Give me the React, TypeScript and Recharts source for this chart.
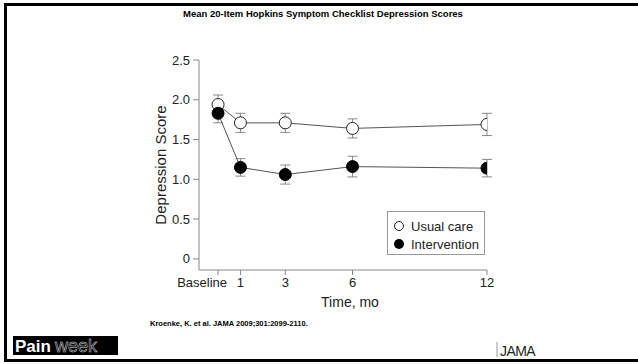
import React from 'react';
import { LineChart, Line, XAxis, YAxis, ErrorBar, Legend } from 'recharts';

// months since baseline (0 = baseline)
const months = [0, 1, 3, 6, 12];
const usualCare = [1.94, 1.71, 1.71, 1.64, 1.69];
const usualCareErr = [0.12, 0.12, 0.12, 0.12, 0.14];
const intervention = [1.83, 1.15, 1.06, 1.16, 1.14];
const interventionErr = [0.12, 0.11, 0.12, 0.13, 0.11];
const yTicks = [0, 0.5, 1, 1.5, 2, 2.5];

const FONT = '"Liberation Sans", Arial, Helvetica, sans-serif';

const data = months.map((m, i) => ({
  month: m,
  usual: usualCare[i],
  usualErr: usualCareErr[i],
  interv: intervention[i],
  intervErr: interventionErr[i],
}));

const MonthTick = (props: any) => {
  const { x, y, payload } = props;
  const isBase = payload.value === 0;
  return (
    <text x={isBase ? x + 9 : x} y={y} dy="0.71em" textAnchor={isBase ? 'end' : 'middle'}
      fontFamily={FONT} fontSize={13} fill="#222">
      {isBase ? 'Baseline' : payload.value}
    </text>
  );
};

const YLabel = (props: any) => {
  const { viewBox } = props;
  const x = viewBox.x + 21;
  const y = viewBox.y + viewBox.height / 2;
  return (
    <text x={x} y={y} transform={`rotate(-90 ${x} ${y})`} textAnchor="middle" dominantBaseline="central"
      fontFamily={FONT} fontSize={15} fill="#222">
      Depression Score
    </text>
  );
};

const XLabel = (props: any) => {
  const { viewBox } = props;
  const x = viewBox.x + viewBox.width / 2 + 7;
  return (
    <text x={x} y={302} textAnchor="middle" dominantBaseline="central" fontFamily={FONT} fontSize={14} fill="#222">
      Time, mo
    </text>
  );
};

const LegendBox = () => (
  <div style={{ border: '1px solid #999', background: '#fff', width: 98, height: 44, fontFamily: FONT, fontSize: 13, color: '#222', boxSizing: 'border-box', padding: '5px 0 0 5px' }}>
    <div style={{ display: 'flex', alignItems: 'center', height: 18 }}>
      <svg width={14} height={14}><circle cx={6} cy={7} r={4.5} fill="#fff" stroke="#222" strokeWidth={1} /></svg>
      <span style={{ marginLeft: 4 }}>Usual care</span>
    </div>
    <div style={{ display: 'flex', alignItems: 'center', height: 18 }}>
      <svg width={14} height={14}><circle cx={6} cy={7} r={5} fill="#000" /></svg>
      <span style={{ marginLeft: 4 }}>Intervention</span>
    </div>
  </div>
);

export default function App() {
  return (
    <div style={{ position: 'fixed', left: 0, top: 0, width: 638, height: 364, background: '#fff', overflow: 'hidden' }}>
      <LineChart width={638} height={364} data={data} margin={{ top: 60, right: 151, bottom: 64, left: 139 }}>
        <XAxis
          dataKey="month"
          type="number"
          domain={[-0.85, 12]}
          allowDataOverflow
          ticks={months}
          interval={0}
          height={30}
          tickSize={5}
          tickMargin={3}
          stroke="#888"
          tick={<MonthTick />}
          label={<XLabel />}
        />
        <YAxis
          type="number"
          domain={[-0.14, 2.5]}
          allowDataOverflow
          ticks={yTicks}
          interval={0}
          tickFormatter={(v: number) => (v === 0 ? '0' : v.toFixed(1))}
          width={60}
          tickSize={6}
          tickMargin={3}
          stroke="#888"
          tick={{ fill: '#222', fontSize: 13, fontFamily: FONT }}
          label={<YLabel />}
        />
        <Line dataKey="usual" stroke="#555" strokeWidth={1} isAnimationActive={false}
          dot={{ r: 6, fill: '#fff', stroke: '#222', strokeWidth: 1 }}>
          <ErrorBar dataKey="usualErr" direction="y" width={5} stroke="#888" strokeWidth={1} />
        </Line>
        <Line dataKey="interv" stroke="#555" strokeWidth={1} isAnimationActive={false}
          dot={{ r: 6, fill: '#000', stroke: '#000', strokeWidth: 1 }}>
          <ErrorBar dataKey="intervErr" direction="y" width={5} stroke="#888" strokeWidth={1} />
        </Line>
        <Legend layout="vertical" align="center" verticalAlign="middle" content={<LegendBox />}
          wrapperStyle={{ left: 387, top: 211, width: 100, height: 46 }} />
      </LineChart>
      <svg width={638} height={364} style={{ position: 'absolute', left: 0, top: 0, pointerEvents: 'none' }}>
        <rect x={4} y={3} width={634} height={3} fill="#000" />
        <rect x={4} y={3} width={3} height={358} fill="#000" />
        <rect x={4} y={359} width={634} height={3} fill="#000" />
        <text x={323} y={17} textAnchor="middle" fontFamily={FONT} fontWeight="bold" fontSize={9.5} fill="#000">
          Mean 20-Item Hopkins Symptom Checklist Depression Scores
        </text>
        <text x={150} y={326} fontFamily={FONT} fontWeight="bold" fontSize={7.5} fill="#000">
          Kroenke, K. et al. JAMA 2009;301:2099-2110.
        </text>
        <rect x={13} y={336} width={105} height={19} fill="#000" />
        <text x={15} y={352} fontFamily={FONT} fontWeight="bold" fontSize={17} fill="#fff">Pain</text>
        <text x={55} y={352} fontFamily={FONT} fontSize={18} fill="none" stroke="#ddd" strokeWidth={0.5}>week</text>
        <line x1={497} y1={342} x2={497} y2={357} stroke="#999" strokeWidth={1} />
        <text x={500} y={356} fontFamily={FONT} fontSize={14} letterSpacing={-0.6} fill="#222">JAMA</text>
      </svg>
    </div>
  );
}
